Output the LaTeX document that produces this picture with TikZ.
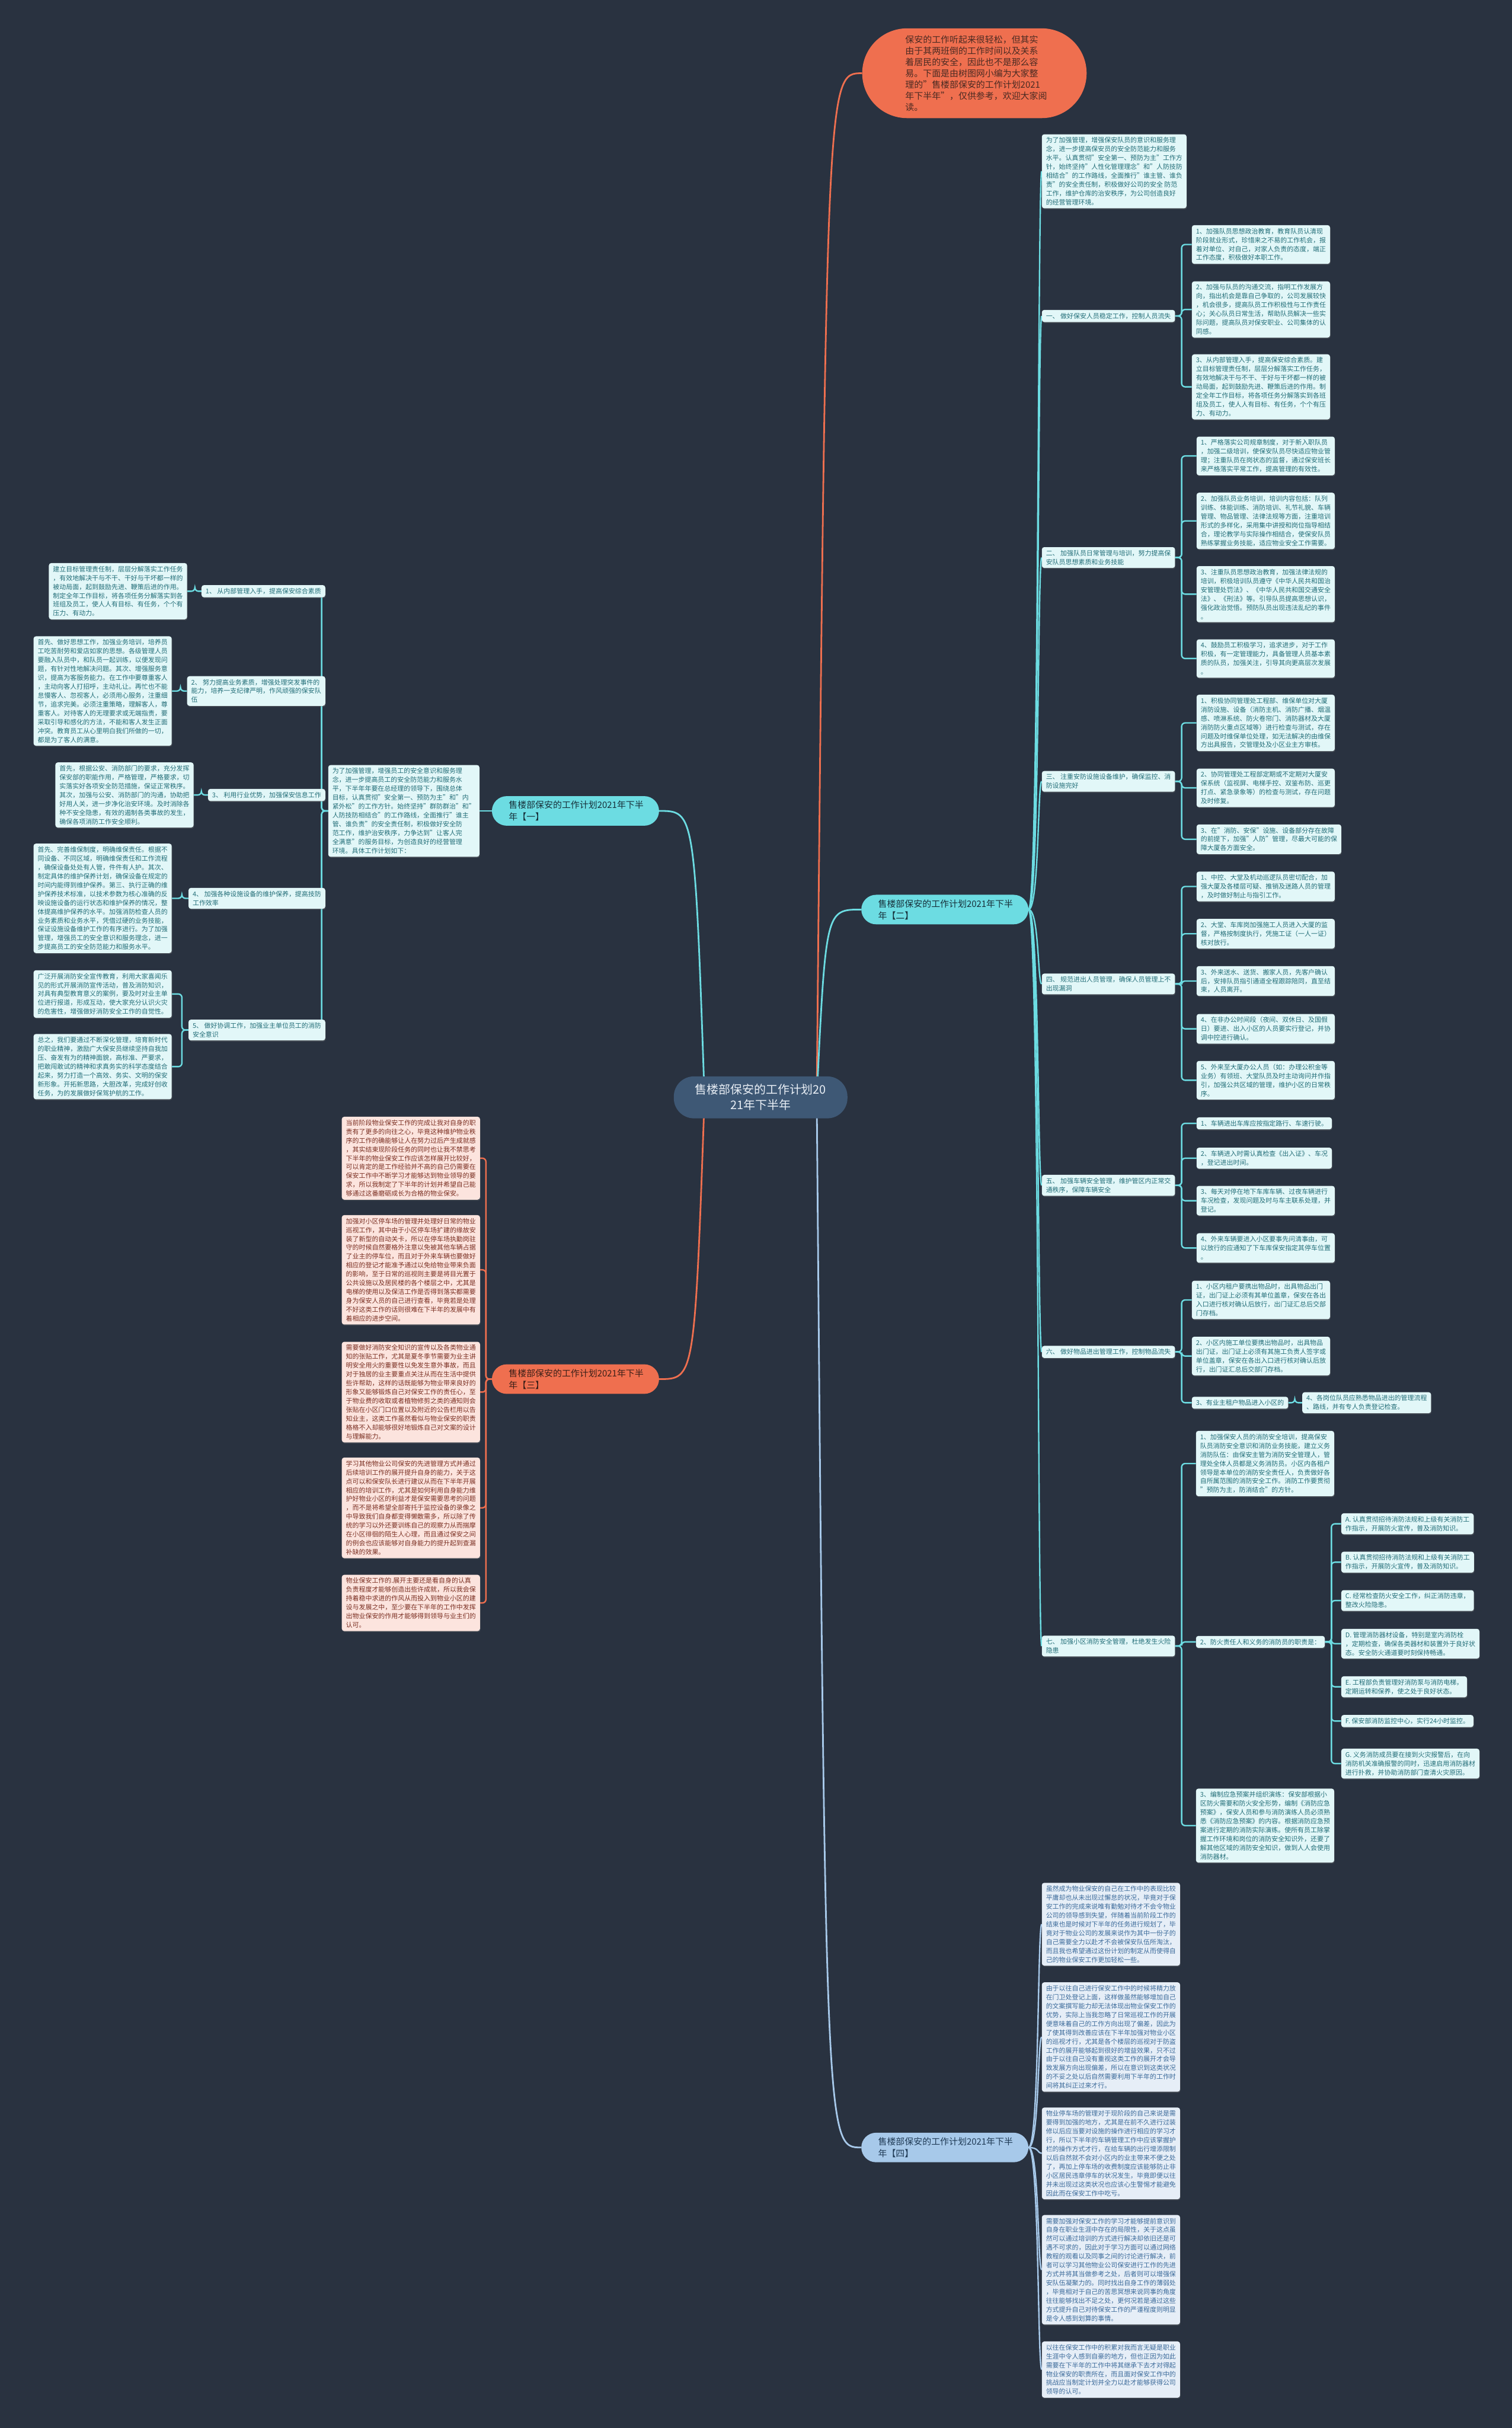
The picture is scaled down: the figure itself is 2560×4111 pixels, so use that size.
\documentclass[tikz,border=0pt]{standalone}
\usepackage{fontspec}
\setmainfont{Noto Sans CJK SC}
\usetikzlibrary{calc, backgrounds, shadows}
\definecolor{bgc}{HTML}{293240}
\definecolor{tealc}{HTML}{6CDCE2}
\definecolor{orac}{HTML}{EF6F4F}
\definecolor{bluec}{HTML}{A7C9EA}
\definecolor{rootc}{HTML}{3E5875}
\definecolor{roottx}{HTML}{E8EEF5}
\definecolor{introtx}{HTML}{4A2A22}
\definecolor{labttx}{HTML}{17303A}
\definecolor{labptx}{HTML}{3A1F18}
\definecolor{labbtx}{HTML}{1F3A55}
\definecolor{leaftc}{HTML}{E2F7F8}
\definecolor{leaftx}{HTML}{236E78}
\definecolor{leafpc}{HTML}{FCE4DE}
\definecolor{leafpx}{HTML}{7B2F22}
\definecolor{leafbc}{HTML}{E6EEF7}
\definecolor{leafbx}{HTML}{3B6A9A}
\newcommand\leaffont{\fontsize{11pt}{15pt}\selectfont}
\newcommand\labfont{\fontsize{15pt}{20pt}\selectfont}

\begin{document}
\begin{tikzpicture}[
  x=1pt, y=-1pt,
  leaft/.style={fill=leaftc, text=leaftx, rounded corners=4pt, align=left,
                inner xsep=7pt, inner ysep=5pt, font=\leaffont, anchor=west,
                drop shadow={opacity=0.35, shadow xshift=0.8pt, shadow yshift=-1.6pt}},
  leafp/.style={leaft, fill=leafpc, text=leafpx, anchor=east},
  leafb/.style={leaft, fill=leafbc, text=leafbx},
  lab/.style={rounded corners=25pt, minimum width=283pt, minimum height=50pt,
              text width=226pt, align=left, font=\labfont, inner sep=0pt},
  lnt/.style={draw=tealc, line width=2.4pt},
  lnp/.style={draw=orac, line width=2.4pt},
  lnb/.style={draw=bluec, line width=2.4pt},
  brk/.style={rounded corners=6pt}
]
\useasboundingbox (0,0) rectangle (2560,4111);

% centre and branch labels
\node[fill=rootc, text=roottx, rounded corners=34pt, minimum width=294pt,
      minimum height=71pt, align=center, font=\fontsize{20pt}{26pt}\selectfont,
      inner sep=0pt] (root) at (1288,1858) {售楼部保安的工作计划20\\21年下半年};
\node[fill=orac, text=introtx, rounded corners=76pt, minimum width=380pt,
      minimum height=152pt, text width=234pt, align=left,
      font=\fontsize{15pt}{19pt}\selectfont, inner sep=0pt] (intro) at (1650,124)
  {保安的工作听起来很轻松，但其实\\由于其两班倒的工作时间以及关系\\着居民的安全，因此也不是那么容\\易。下面是由树图网小编为大家整\\理的"售楼部保安的工作计划2021\\年下半年"，仅供参考，欢迎大家阅\\读。};
\node[lab, fill=tealc, text=labttx] (lab1) at (974.5,1373) {售楼部保安的工作计划2021年下半\\年【一】};
\node[lab, fill=tealc, text=labttx] (lab2) at (1600,1540) {售楼部保安的工作计划2021年下半\\年【二】};
\node[lab, fill=orac, text=labptx] (lab3) at (974.5,2335) {售楼部保安的工作计划2021年下半\\年【三】};
\node[lab, fill=bluec, text=labbtx] (lab4) at (1600,3636) {售楼部保安的工作计划2021年下半\\年【四】};

% branch two
\node[leaft] (p0) at (1764,290) {为了加强管理，增强保安队员的意识和服务理\\念，进一步提高保安员的安全防范能力和服务\\水平。认真贯彻"安全第一、预防为主"工作方\\针，始终坚持"人性化管理理念"和"人防技防\\相结合"的工作路线，全面推行"谁主管、谁负\\责"的安全责任制，积极做好公司的安全 防范\\工作，维护仓库的治安秩序，为公司创造良好\\的经营管理环境。};
\node[leaft] (i1) at (1764,535) {一、 做好保安人员稳定工作，控制人员流失};
\node[leaft] (a11) at (2018,414) {1、加强队员思想政治教育，教育队员认清现\\阶段就业形式，珍惜来之不易的工作机会，报\\着对单位、对自己，对家人负责的态度，端正\\工作态度，积极做好本职工作。};
\node[leaft] (a12) at (2018,524) {2、加强与队员的沟通交流，指明工作发展方\\向，指出机会是靠自己争取的，公司发展较快\\，机会很多，提高队员工作积极性与工作责任\\心；关心队员日常生活，帮助队员解决一些实\\际问题，提高队员对保安职业、公司集体的认\\同感。};
\node[leaft] (a13) at (2018,655) {3、从内部管理入手，提高保安综合素质。建\\立目标管理责任制，层层分解落实工作任务，\\有效地解决干与不干、干好与干坏都一样的被\\动局面，起到鼓励先进、鞭策后进的作用。制\\定全年工作目标，将各项任务分解落实到各班\\组及员工，使人人有目标、有任务，个个有压\\力、有动力。};
\node[leaft] (i2) at (1764,944) {二、 加强队员日常管理与培训，努力提高保\\安队员思想素质和业务技能};
\node[leaft] (a21) at (2026,772) {1、严格落实公司规章制度，对于新入职队员\\，加强二级培训，使保安队员尽快适应物业管\\理；注重队员在岗状态的监督，通过保安班长\\来严格落实平常工作，提高管理的有效性。};
\node[leaft] (a22) at (2026,882) {2、加强队员业务培训，培训内容包括：队列\\训练、体能训练、消防培训、礼节礼貌、车辆\\管理、物品管理、法律法规等方面，注重培训\\形式的多样化，采用集中讲授和岗位指导相结\\合，理论教学与实际操作相结合，使保安队员\\熟练掌握业务技能，适应物业安全工作需要。};
\node[leaft] (a23) at (2026,1006) {3、注重队员思想政治教育，加强法律法规的\\培训，积极培训队员遵守《中华人民共和国治\\安管理处罚法》、《中华人民共和国交通安全\\法》、《刑法》等。引导队员提高思想认识，\\强化政治觉悟。预防队员出现违法乱纪的事件\\。};
\node[leaft] (a24) at (2026,1115) {4、鼓励员工积极学习，追求进步，对于工作\\积极，有一定管理能力，具备管理人员基本素\\质的队员，加强关注，引导其向更高层次发展\\。};
\node[leaft] (i3) at (1764,1323) {三、 注重安防设施设备维护，确保监控、消\\防设施完好};
\node[leaft] (a31) at (2026,1224) {1、积极协同管理处工程部、维保单位对大厦\\消防设施、设备（消防主机、消防广播、烟温\\感、喷淋系统、防火卷帘门、消防器材及大厦\\消防防火重点区域等）进行检查与测试，存在\\问题及时维保单位处理，如无法解决的由维保\\方出具报告，交管理处及小区业主方审核。};
\node[leaft] (a32) at (2026,1334) {2、协同管理处工程部定期或不定期对大厦安\\保系统（监视屏、电梯手控、双鉴布防、巡更\\打点、紧急录象等）的检查与测试，存在问题\\及时修复。};
\node[leaft] (a33) at (2026,1421) {3、在"消防、安保"设施、设备部分存在故障\\的前提下，加强"人防"管理，尽最大可能的保\\障大厦各方面安全。};
\node[leaft] (i4) at (1764,1666) {四、 规范进出人员管理，确保人员管理上不\\出现漏洞};
\node[leaft] (a41) at (2026,1501) {1、中控、大堂及机动巡逻队员密切配合，加\\强大厦及各楼层可疑、推销及迷路人员的管理\\，及时做好制止与指引工作。};
\node[leaft] (a42) at (2026,1581) {2、大堂、车库岗加强施工人员进入大厦的监\\督，严格按制度执行，凭施工证（一人一证）\\核对放行。};
\node[leaft] (a43) at (2026,1661) {3、外来送水、送货、搬家人员，先客户确认\\后，安排队员指引通道全程跟踪陪同，直至结\\束，人员离开。};
\node[leaft] (a44) at (2026,1742) {4、在非办公时间段（夜间、双休日、及国假\\日）要进、出入小区的人员要实行登记，并协\\调中控进行确认。};
\node[leaft] (a45) at (2026,1829) {5、外来至大厦办公人员（如：办理公积金等\\业务）有领班、大堂队员及时主动询问并作指\\引，加强公共区域的管理，维护小区的日常秩\\序。};
\node[leaft] (i5) at (1764,2007) {五、 加强车辆安全管理，维护管区内正常交\\通秩序，保障车辆安全};
\node[leaft] (a51) at (2026,1902) {1、车辆进出车库应按指定路行、车速行驶。};
\node[leaft] (a52) at (2026,1961) {2、车辆进入时需认真检查《出入证》、车况\\，登记进出时间。};
\node[leaft] (a53) at (2026,2033) {3、每天对停在地下车库车辆、过夜车辆进行\\车况检查，发现问题及时与车主联系处理，并\\登记。};
\node[leaft] (a54) at (2026,2113) {4、外来车辆要进入小区要事先问清事由，可\\以放行的应通知了下车库保安指定其停车位置\\。};
\node[leaft] (i6) at (1764,2289) {六、 做好物品进出管理工作，控制物品流失};
\node[leaft] (a61) at (2018,2201) {1、小区内租户要携出物品时，出具物品出门\\证，出门证上必须有其单位盖章，保安在各出\\入口进行核对确认后放行，出门证汇总后交部\\门存档。};
\node[leaft] (a62) at (2018,2296) {2、小区内施工单位要携出物品时，出具物品\\出门证，出门证上必须有其施工负责人签字或\\单位盖章，保安在各出入口进行核对确认后放\\行，出门证汇总后交部门存档。};
\node[leaft] (a63) at (2018,2375) {3、有业主租户物品进入小区的};
\node[leaft] (a64) at (2205,2375) {4、各岗位队员应熟悉物品进出的管理流程\\、路线，并有专人负责登记检查。};
\node[leaft] (i7) at (1764,2787) {七、 加强小区消防安全管理，杜绝发生火险\\隐患};
\node[leaft] (a71) at (2025,2478) {1、加强保安人员的消防安全培训，提高保安\\队员消防安全意识和消防业务技能，建立义务\\消防队伍：由保安主管为消防安全管理人，管\\理处全体人员都是义务消防员。小区内各租户\\领导是本单位的消防安全责任人，负责做好各\\自所属范围的消防安全工作。消防工作要贯彻\\"预防为主，防消结合"的方针。};
\node[leaft] (a72) at (2025,2780) {2、防火责任人和义务的消防员的职责是：};
\node[leaft] (a73) at (2025,3091) {3、编制应急预案并组织演练：保安部根据小\\区防火需要和防火安全形势，编制《消防应急\\预案》，保安人员和参与消防演练人员必须熟\\悉《消防应急预案》的内容。根据消防应急预\\案进行定期的消防实际演练。使所有员工除掌\\握工作环境和岗位的消防安全知识外，还要了\\解其他区域的消防安全知识，做到人人会使用\\消防器材。};
\node[leaft] (fa) at (2271,2580) {A. 认真贯彻招待消防法规和上级有关消防工\\作指示，开展防火宣传，普及消防知识。};
\node[leaft] (fb) at (2271,2645) {B. 认真贯彻招待消防法规和上级有关消防工\\作指示，开展防火宣传，普及消防知识。};
\node[leaft] (fc) at (2271,2710) {C. 经常检查防火安全工作，纠正消防违章，\\整改火险隐患。};
\node[leaft] (fd) at (2271,2783) {D. 管理消防器材设备，特别是室内消防栓\\，定期检查，确保各类器材和装置外于良好状\\态。安全防火通道要时刻保持畅通。};
\node[leaft] (fe) at (2271,2856) {E. 工程部负责管理好消防泵与消防电梯，\\定期运转和保养，使之处于良好状态。};
\node[leaft] (ff) at (2271,2914) {F. 保安部消防监控中心，实行24小时监控。};
\node[leaft] (fg) at (2271,2986) {G. 义务消防成员要在接到火灾报警后，在向\\消防机关准确报警的同时，迅速启用消防器材\\进行扑救，并协助消防部门查清火灾原因。};

% branch one
\node[leaft, anchor=east] (c1) at (812,1373) {为了加强管理，增强员工的安全意识和服务理\\念，进一步提高员工的安全防范能力和服务水\\平，下半年年要在总经理的领导下，围绕总体\\目标，认真贯彻"安全第一、预防为主"和"内\\紧外松"的工作方针。始终坚持"群防群治"和"\\人防技防相结合"的工作路线，全面推行"谁主\\管、谁负责"的安全责任制，积极做好安全防\\范工作，维护治安秩序，力争达到"让客人完\\全满意"的服务目标，为创造良好的经营管理\\环境。具体工作计划如下：};
\node[leaft, anchor=east] (l1) at (551,1001) {1、 从内部管理入手，提高保安综合素质};
\node[leaft, anchor=east] (l2) at (551,1170) {2、 努力提高业务素质，增强处理突发事件的\\能力，培养一支纪律严明，作风顽强的保安队\\伍};
\node[leaft, anchor=east] (l3) at (551,1346) {3、 利用行业优势，加强保安信息工作};
\node[leaft, anchor=east] (l4) at (551,1521) {4、 加强各种设施设备的维护保养，提高技防\\工作效率};
\node[leaft, anchor=east] (l5) at (551,1744) {5、 做好协调工作，加强业主单位员工的消防\\安全意识};
\node[leaft, anchor=east] (q1) at (317,1001) {建立目标管理责任制，层层分解落实工作任务\\，有效地解决干与不干、干好与干坏都一样的\\被动局面，起到鼓励先进、鞭策后进的作用。\\制定全年工作目标，将各项任务分解落实到各\\班组及员工，使人人有目标、有任务，个个有\\压力、有动力。};
\node[leaft, anchor=east] (q2) at (291,1170) {首先、做好思想工作，加强业务培训，培养员\\工吃苦耐劳和爱店如家的思想。各级管理人员\\要融入队员中，和队员一起训练，以便发现问\\题，有针对性地解决问题。其次、增强服务意\\识，提高为客服务能力。在工作中要尊重客人\\，主动向客人打招呼，主动礼让。再忙也不能\\怠慢客人、忽视客人，必须用心服务，注重细\\节，追求完美。必须注重策略，理解客人，尊\\重客人。对待客人的无理要求或无端指责，要\\采取引导和感化的方法，不能和客人发生正面\\冲突。教育员工从心里明白我们所做的一切，\\都是为了客人的满意。};
\node[leaft, anchor=east] (q3) at (328,1346) {首先，根据公安、消防部门的要求，充分发挥\\保安部的职能作用，严格管理，严格要求，切\\实落实好各项安全防范措施，保证正常秩序。\\其次，加强与公安、消防部门的沟通，协助把\\好用人关，进一步净化治安环境。及时消除各\\种不安全隐患，有效的遏制各类事故的发生，\\确保各项消防工作安全顺利。};
\node[leaft, anchor=east] (q4) at (291,1521) {首先、完善维保制度，明确维保责任。根据不\\同设备、不同区域，明确维保责任和工作流程\\，确保设备处处有人管，件件有人护。其次、\\制定具体的维护保养计划，确保设备在规定的\\时间内能得到维护保养。第三、执行正确的维\\护保养技术标准，以技术参数为核心准确的反\\映设施设备的运行状态和维护保养的情况，整\\体提高维护保养的水平。加强消防检查人员的\\业务素质和业务水平，凭借过硬的业务技能，\\保证设施设备维护工作的有序进行。为了加强\\管理，增强员工的安全意识和服务理念，进一\\步提高员工的安全防范能力和服务水平。};
\node[leaft, anchor=east] (q5a) at (291,1683) {广泛开展消防安全宣传教育，利用大家喜闻乐\\见的形式开展消防宣传活动，普及消防知识，\\对具有典型教育意义的案例，要及时对业主单\\位进行报道，形成互动，使大家充分认识火灾\\的危害性，增强做好消防安全工作的自觉性。};
\node[leaft, anchor=east] (q5b) at (291,1806) {总之，我们要通过不断深化管理，培育新时代\\的职业精神，激励广大保安员继续坚持自我加\\压、奋发有为的精神面貌，高标准、严要求，\\把敢闯敢试的精神和求真务实的科学态度结合\\起来，努力打造一个高效、务实、文明的保安\\新形象。开拓新思路，大胆改革，完成好创收\\任务，为的发展做好保驾护航的工作。};

% branch three
\node[leafp] (t1) at (813,1961) {当前阶段物业保安工作的完成让我对自身的职\\责有了更多的向往之心，毕竟这种维护物业秩\\序的工作的确能够让人在努力过后产生成就感\\，其实结束现阶段任务的同时也让我不禁思考\\下半年的物业保安工作应该怎样展开比较好，\\可以肯定的是工作经验并不高的自己仍需要在\\保安工作中不断学习才能够达到物业领导的要\\求，所以我制定了下半年的计划并希望自己能\\够通过这番磨砺成长为合格的物业保安。};
\node[leafp] (t2) at (813,2150) {加强对小区停车场的管理并处理好日常的物业\\巡视工作，其中由于小区停车场扩建的缘故安\\装了新型的自动关卡，所以在停车场执勤岗驻\\守的时候自然要格外注意以免被其他车辆占据\\了业主的停车位，而且对于外来车辆也要做好\\相应的登记才能准予通过以免给物业带来负面\\的影响，至于日常的巡视则主要是将目光置于\\公共设施以及居民楼的各个楼层之中，尤其是\\电梯的使用以及保洁工作是否得到落实都需要\\身为保安人员的自己进行查看，毕竟若是处理\\不好这类工作的话则很难在下半年的发展中有\\着相应的进步空间。};
\node[leafp] (t3) at (813,2357) {需要做好消防安全知识的宣传以及各类物业通\\知的张贴工作，尤其是夏冬季节需要为业主讲\\明安全用火的重要性以免发生意外事故，而且\\对于独居的业主要重点关注从而在生活中提供\\些许帮助，这样的话既能够为物业带来良好的\\形象又能够锻炼自己对保安工作的责任心，至\\于物业费的收取或者植物修剪之类的通知则会\\张贴在小区门口位置以及附近的公告栏用以告\\知业主，这类工作虽然看似与物业保安的职责\\格格不入却能够很好地锻炼自己对文案的设计\\与理解能力。};
\node[leafp] (t4) at (813,2553) {学习其他物业公司保安的先进管理方式并通过\\后续培训工作的展开提升自身的能力，关于这\\点可以和保安队长进行建议从而在下半年开展\\相应的培训工作，尤其是如何利用自身能力维\\护好物业小区的利益才是保安需要思考的问题\\，而不是将希望全部寄托于监控设备的录像之\\中导致我们自身都变得懒散需多，所以除了传\\统的学习以外还要训练自己的观察力从而揣摩\\在小区徘徊的陌生人心理，而且通过保安之间\\的例会也应该能够对自身能力的提升起到查漏\\补缺的效果。};
\node[leafp] (t5) at (813,2714) {物业保安工作的.展开主要还是看自身的认真\\负责程度才能够创造出些许成就，所以我会保\\持着稳中求进的作风从而投入到物业小区的建\\设与发展之中，至少要在下半年的工作中发挥\\出物业保安的作用才能够得到领导与业主们的\\认可。};

% branch four
\node[leafb] (u1) at (1764,3258) {虽然成为物业保安的自己在工作中的表现比较\\平庸却也从未出现过懈怠的状况，毕竟对于保\\安工作的完成来说唯有勤勉对待才不会令物业\\公司的领导感到失望，伴随着当前阶段工作的\\结束也是时候对下半年的任务进行规划了，毕\\竟对于物业公司的发展来说作为其中一份子的\\自己需要全力以赴才不会被保安队伍所淘汰，\\而且我也希望通过这份计划的制定从而使得自\\己的物业保安工作更加轻松一些。};
\node[leafb] (u2) at (1764,3449) {由于以往自己进行保安工作中的时候将精力放\\在门卫处登记上面，这样做虽然能够增加自己\\的文案撰写能力却无法体现出物业保安工作的\\优势，实际上当我忽略了日常巡视工作的开展\\便意味着自己的工作方向出现了偏差，因此为\\了使其得到改善应该在下半年加强对物业小区\\的巡视才行，尤其是各个楼层的巡视对于防盗\\工作的展开能够起到很好的增益效果，只不过\\由于以往自己没有重视这类工作的展开才会导\\致发展方向出现偏差，所以在意识到这类状况\\的不妥之处以后自然需要利用下半年的工作时\\间将其纠正过来才行。};
\node[leafb] (u3) at (1764,3646) {物业停车场的管理对于现阶段的自己来说是需\\要得到加强的地方，尤其是在前不久进行过装\\修以后应当要对设施的操作进行相应的学习才\\行，所以下半年的车辆管理工作中应该掌握护\\栏的操作方式才行，在给车辆的出行增添限制\\以后自然就不会对小区内的业主带来不便之处\\了，再加上停车场的收费制度应该能够防止非\\小区居民违章停车的状况发生，毕竟即便以往\\并未出现过这类状况也应该心生警惕才能避免\\因此而在保安工作中吃亏。};
\node[leafb] (u4) at (1764,3843) {需要加强对保安工作的学习才能够提前意识到\\自身在职业生涯中存在的局限性，关于这点虽\\然可以通过培训的方式进行解决却依旧还是可\\遇不可求的，因此对于学习方面可以通过网络\\教程的观看以及同事之间的讨论进行解决，前\\者可以学习其他物业公司保安进行工作的先进\\方式并将其当做参考之处，后者则可以增强保\\安队伍凝聚力的。同时找出自身工作的薄弱处\\，毕竟相对于自己的苦思冥想来说同事的角度\\往往能够找出不足之处，更何况若是通过这些\\方式提升自己对待保安工作的严谨程度则明显\\是令人感到划算的事情。};
\node[leafb] (u5) at (1764,4012) {以往在保安工作中的积累对我而言无疑是职业\\生涯中令人感到自豪的地方，但也正因为如此\\需要在下半年的工作中将其继承下去才对得起\\物业保安的职责所在，而且面对保安工作中的\\挑战应当制定计划并全力以赴才能够获得公司\\领导的认可。};

\begin{scope}[on background layer]
\fill[bgc] (0,0) rectangle (2560,4111);
% centre to branches
\draw[lnp, line width=2.8pt] ($(root.center)+(95,0)$) .. controls ($(intro.west)+(-60,0)$) .. (intro.west);
\draw[lnt, line width=2.8pt] ($(root.center)+(95,0)$) .. controls ($(lab2.west)+(-60,0)$) .. (lab2.west);
\draw[lnb, line width=2.8pt] ($(root.center)+(95,0)$) .. controls ($(lab4.west)+(-60,0)$) .. (lab4.west);
\draw[lnt, line width=2.8pt] ($(root.center)+(-95,0)$) .. controls ($(lab1.east)+(60,0)$) .. (lab1.east);
\draw[lnp, line width=2.8pt] ($(root.center)+(-95,0)$) .. controls ($(lab3.east)+(60,0)$) .. (lab3.east);
% branch two
\foreach \k in {p0,i1,i2,i3,i4,i5,i6,i7}
  \draw[lnt] (lab2.east) .. controls ($(lab2.east)+(18,0)$) and ($(\k.west)+(-7,0)$) .. (\k.west);
\foreach \p/\k in {i1/a11,i1/a12,i1/a13,i2/a21,i2/a22,i2/a23,i2/a24,i3/a31,i3/a32,i3/a33,
                   i4/a41,i4/a42,i4/a43,i4/a44,i4/a45,i5/a51,i5/a52,i5/a53,i5/a54,
                   i6/a61,i6/a62,i6/a63,i7/a71,i7/a72,i7/a73,a63/a64,
                   a72/fa,a72/fb,a72/fc,a72/fd,a72/fe,a72/ff,a72/fg}
  \draw[lnt, brk] (\p.east) -- ++(11,0) |- (\k.west);
% branch one
\draw[lnt] (lab1.west) -- (c1.east);
\foreach \k in {l1,l2,l3,l4,l5}
  \draw[lnt, brk] (c1.west) -- ++(-11,0) |- (\k.east);
\foreach \p/\k in {l1/q1,l2/q2,l3/q3,l4/q4,l5/q5a,l5/q5b}
  \draw[lnt, brk] (\p.west) -- ++(-11,0) |- (\k.east);
% branch three
\foreach \k in {t1,t2,t3,t4,t5}
  \draw[lnp, brk] (lab3.west) -- ++(-10,0) |- (\k.east);
% branch four
\foreach \k in {u1,u2,u3,u4,u5}
  \draw[lnb] (lab4.east) .. controls ($(lab4.east)+(18,0)$) and ($(\k.west)+(-7,0)$) .. (\k.west);
\end{scope}
\end{tikzpicture}
\end{document}
